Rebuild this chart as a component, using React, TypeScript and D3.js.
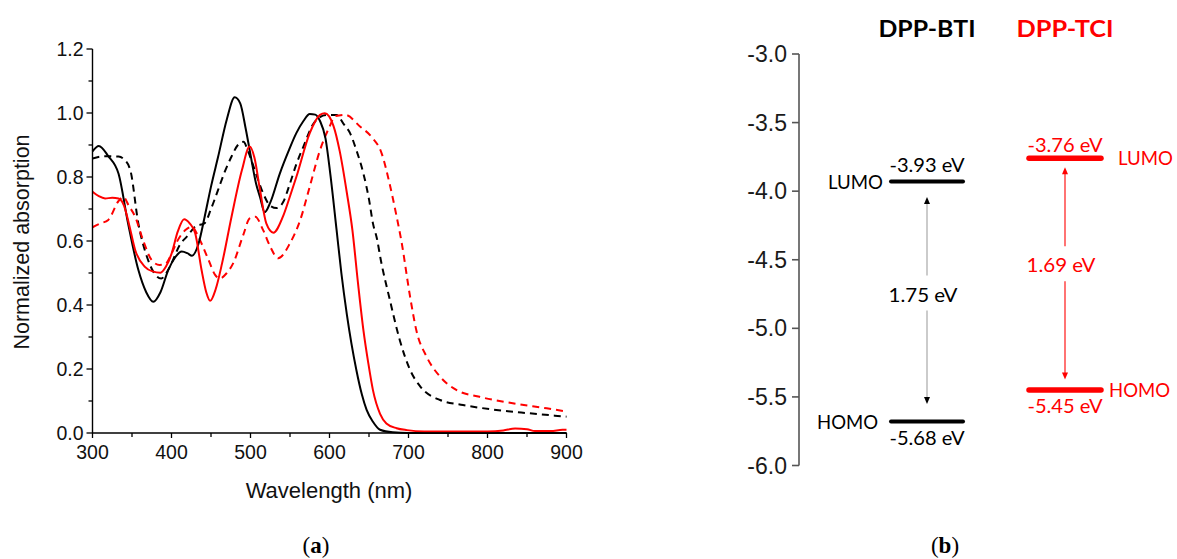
import React from "react";
import * as d3 from "d3";

// ---------- Panel (a): absorption spectra ----------
const btiSolidWl = [300, 308, 320, 333, 345, 358, 368, 377, 386, 396, 405, 413, 420, 426, 434, 442, 450, 459, 470, 480, 487, 494, 500, 507, 512, 518, 525, 537, 548, 558, 567, 575, 582, 588, 595, 601, 609, 615, 622, 634, 641, 647, 655, 664, 680, 700, 900];
const btiSolidAbs = [0.88, 0.897, 0.865, 0.81, 0.655, 0.51, 0.44, 0.41, 0.44, 0.51, 0.55, 0.567, 0.562, 0.554, 0.59, 0.676, 0.77, 0.863, 0.98, 1.049, 1.03, 0.95, 0.87, 0.78, 0.738, 0.69, 0.72, 0.81, 0.88, 0.937, 0.975, 0.997, 0.995, 0.975, 0.92, 0.81, 0.634, 0.5, 0.37, 0.197, 0.12, 0.072, 0.035, 0.01, 0.002, 0, 0];

const btiDashWl = [300, 315, 333, 340, 348, 358, 369, 378, 387, 398, 411, 420, 430, 442, 450, 459, 468, 476, 484, 491, 497, 504, 516, 525, 533, 541, 550, 558, 567, 580, 596, 609, 618, 626, 634, 643, 650, 655, 660, 665, 676, 689, 702, 715, 740, 769, 811, 853, 900];
const btiDashAbs = [0.858, 0.865, 0.864, 0.855, 0.82, 0.655, 0.55, 0.5, 0.483, 0.52, 0.59, 0.615, 0.645, 0.656, 0.7, 0.76, 0.82, 0.864, 0.9, 0.91, 0.88, 0.832, 0.749, 0.71, 0.703, 0.72, 0.78, 0.84, 0.895, 0.968, 0.994, 0.994, 0.965, 0.937, 0.884, 0.81, 0.73, 0.655, 0.608, 0.54, 0.42, 0.29, 0.197, 0.145, 0.103, 0.0875, 0.072, 0.0615, 0.051];

const tciSolidWl = [300, 308, 316, 325, 333, 340, 346, 354, 366, 376, 386, 393, 400, 408, 416, 423, 430, 438, 444, 449, 456, 464, 476, 489, 499, 505, 512, 520, 529, 541, 550, 558, 575, 588, 594, 605, 613, 622, 629, 636, 643, 649, 655, 664, 672, 685, 698, 720, 800, 820, 835, 850, 860, 880, 895, 900];
const tciSolidAbs = [0.754, 0.74, 0.733, 0.735, 0.733, 0.71, 0.655, 0.572, 0.52, 0.505, 0.501, 0.52, 0.56, 0.63, 0.668, 0.655, 0.624, 0.51, 0.44, 0.413, 0.45, 0.53, 0.676, 0.82, 0.895, 0.86, 0.76, 0.655, 0.626, 0.676, 0.74, 0.8, 0.937, 0.994, 0.999, 0.96, 0.88, 0.75, 0.634, 0.47, 0.32, 0.22, 0.134, 0.06, 0.03, 0.015, 0.009, 0.005, 0.005, 0.008, 0.014, 0.012, 0.006, 0.006, 0.01, 0.01];

const tciDashWl = [300, 310, 320, 333, 339, 346, 354, 364, 375, 385, 392, 400, 407, 418, 426, 434, 447, 455, 461, 470, 478, 491, 499, 506, 516, 525, 535, 550, 563, 575, 588, 600, 607, 620, 639, 653, 666, 676, 685, 691, 702, 710, 723, 740, 761, 790, 832, 875, 900];
const tciDashAbs = [0.643, 0.655, 0.666, 0.725, 0.738, 0.71, 0.676, 0.603, 0.54, 0.525, 0.528, 0.56, 0.598, 0.635, 0.645, 0.613, 0.54, 0.495, 0.483, 0.5, 0.53, 0.62, 0.671, 0.676, 0.634, 0.582, 0.546, 0.593, 0.666, 0.77, 0.884, 0.957, 0.99, 0.994, 0.957, 0.926, 0.874, 0.78, 0.676, 0.6, 0.426, 0.32, 0.238, 0.176, 0.134, 0.113, 0.093, 0.077, 0.067];

const xTickValues = [300, 400, 500, 600, 700, 800, 900];
const xMinorTicks = [350, 450, 550, 650, 750, 850];
const yTickValues = [0, 0.2, 0.4, 0.6, 0.8, 1.0, 1.2];
const yMinorTicks = [0.1, 0.3, 0.5, 0.7, 0.9, 1.1];

// ---------- Panel (b): energy levels ----------
const materials = ["DPP-BTI", "DPP-TCI"];
const lumoLevels = [-3.93, -3.76];
const homoLevels = [-5.68, -5.45];
const materialColors = ["#000000", "#ff0000"];
const energyTicks = [-3.0, -3.5, -4.0, -4.5, -5.0, -5.5, -6.0];

const SANS = "'Liberation Sans', Arial, sans-serif";
const CAL = "Lato, 'Open Sans', sans-serif";

export default function App() {
  const x = d3.scaleLinear().domain([300, 900]).range([92.5, 566.5]);
  const y = d3.scaleLinear().domain([0, 1.2]).range([433, 49]);

  const mk = (wl: number[], ab: number[]) => {
    const pts = wl.map((w, i) => [w, ab[i]] as [number, number]);
    return d3
      .line<[number, number]>()
      .x((d) => x(d[0]))
      .y((d) => y(d[1]))
      .curve(d3.curveMonotoneX)(pts) as string;
  };

  const series = [
    { d: mk(btiDashWl, btiDashAbs), color: "#000", dash: "7,5" },
    { d: mk(tciDashWl, tciDashAbs), color: "#ff0000", dash: "7,5" },
    { d: mk(btiSolidWl, btiSolidAbs), color: "#000", dash: undefined },
    { d: mk(tciSolidWl, tciSolidAbs), color: "#ff0000", dash: undefined },
  ];

  const ey = d3.scaleLinear().domain([-3, -6]).range([54, 465.5]);
  const ex = d3.scalePoint<string>().domain(materials).range([927, 1065]);
  const halfBar = 36;
  const barWidths = [4, 5.5];
  const tipGap = [15.5, 9];

  return (
    <svg
      width={1177}
      height={559}
      style={{ position: "absolute", left: 0, top: 0, background: "#fff" }}
    >
      <rect width={1177} height={559} fill="#fff" />
      {/* ---------- Panel a ---------- */}
      <g>
        {series.map((s, i) => (
          <path
            key={i}
            d={s.d}
            fill="none"
            stroke={s.color}
            strokeWidth={2}
            strokeDasharray={s.dash}
          />
        ))}
        {/* axes */}
        <line x1={x(300)} x2={x(900)} y1={y(0)} y2={y(0)} stroke="#000" strokeWidth={1.4} />
        <line x1={x(300)} x2={x(300)} y1={y(0)} y2={y(1.2)} stroke="#000" strokeWidth={1.4} />
        {xTickValues.map((t) => (
          <g key={"xt" + t}>
            <line x1={x(t)} x2={x(t)} y1={y(0)} y2={y(0) + 5} stroke="#000" strokeWidth={1.3} />
            <text x={x(t)} y={y(0) + 26} textAnchor="middle" fontFamily={SANS} fontSize={19.5} fill="#111">
              {t}
            </text>
          </g>
        ))}
        {xMinorTicks.map((t) => (
          <line key={"xm" + t} x1={x(t)} x2={x(t)} y1={y(0)} y2={y(0) + 4} stroke="#000" strokeWidth={1.3} />
        ))}
        {yTickValues.map((t) => (
          <g key={"yt" + t}>
            <line x1={x(300) - 6} x2={x(300)} y1={y(t)} y2={y(t)} stroke="#000" strokeWidth={1.3} />
            <text x={x(300) - 9} y={y(t) + 7} textAnchor="end" fontFamily={SANS} fontSize={19.5} fill="#111">
              {t.toFixed(1)}
            </text>
          </g>
        ))}
        {yMinorTicks.map((t) => (
          <line key={"ym" + t} x1={x(300) - 4} x2={x(300)} y1={y(t)} y2={y(t)} stroke="#000" strokeWidth={1.3} />
        ))}
        <text x={329} y={498} textAnchor="middle" fontFamily={SANS} fontSize={22} fill="#111">
          Wavelength (nm)
        </text>
        <text
          transform="translate(29,242) rotate(-90)"
          textAnchor="middle"
          fontFamily={SANS}
          fontSize={21.5}
          fill="#111"
        >
          Normalized absorption
        </text>
      </g>

      {/* ---------- Panel b ---------- */}
      <g>
        <line x1={799} x2={799} y1={ey(-3)} y2={ey(-6)} stroke="#555" strokeWidth={1.6} />
        {energyTicks.map((t) => (
          <g key={"et" + t}>
            <line x1={792} x2={799} y1={ey(t)} y2={ey(t)} stroke="#555" strokeWidth={1.6} />
            <text x={787} y={ey(t) + 8} textAnchor="end" fontFamily={SANS} fontSize={23} fill="#1a1a1a">
              {t.toFixed(1)}
            </text>
          </g>
        ))}
        {materials.map((m, i) => {
          const cx = ex(m) as number;
          const col = materialColors[i];
          const yl = ey(lumoLevels[i]);
          const yh = ey(homoLevels[i]);
          const gap = (lumoLevels[i] - homoLevels[i]).toFixed(2);
          const mid = (yl + yh) / 2 + (i === 0 ? 0 : -2);
          const lineCol = i === 0 ? "#a0a0a0" : "#ff0000";
          const tTop = yl + tipGap[i];
          const tBot = yh - tipGap[i] - (i === 0 ? 2 : 1.5);
          const left = i === 0;
          return (
            <g key={m}>
              <text x={cx} y={37} textAnchor="middle" fontFamily={CAL} fontWeight="bold" fontSize={22} fill={col} textLength={97} lengthAdjust="spacingAndGlyphs">
                {m}
              </text>
              {/* bars */}
              <line x1={cx - halfBar} x2={cx + halfBar} y1={yl} y2={yl} stroke={col} strokeWidth={barWidths[i]} strokeLinecap="round" />
              <line x1={cx - halfBar} x2={cx + halfBar} y1={yh} y2={yh} stroke={col} strokeWidth={barWidths[i]} strokeLinecap="round" />
              {/* values */}
              <text x={cx} y={yl - (left ? 10 : 6)} textAnchor="middle" fontFamily={CAL} fontSize={18.5} fill={col} textLength={75} lengthAdjust="spacingAndGlyphs">
                {lumoLevels[i].toFixed(2)} eV
              </text>
              <text x={cx} y={yh + 23} textAnchor="middle" fontFamily={CAL} fontSize={18.5} fill={col} textLength={75} lengthAdjust="spacingAndGlyphs">
                {homoLevels[i].toFixed(2)} eV
              </text>
              {/* LUMO / HOMO labels */}
              <text
                x={left ? cx - halfBar - 8 : cx + halfBar + 17}
                y={yl + 7}
                textAnchor={left ? "end" : "start"}
                fontFamily={CAL}
                fontSize={18.5}
                fill={col}
                textLength={55}
                lengthAdjust="spacingAndGlyphs"
              >
                LUMO
              </text>
              <text
                x={left ? cx - halfBar - 13 : cx + halfBar + 8}
                y={yh + 7}
                textAnchor={left ? "end" : "start"}
                fontFamily={CAL}
                fontSize={18.5}
                fill={col}
                textLength={61}
                lengthAdjust="spacingAndGlyphs"
              >
                HOMO
              </text>
              {/* gap arrow */}
              <line x1={cx} x2={cx} y1={tTop + 6} y2={mid - 26} stroke={lineCol} strokeWidth={1.1} />
              <line x1={cx} x2={cx} y1={mid + 9} y2={tBot - 6} stroke={lineCol} strokeWidth={1.1} />
              <path d={`M${cx},${tTop} L${cx - 3},${tTop + 7} L${cx + 3},${tTop + 7} Z`} fill={col} />
              <path d={`M${cx},${tBot} L${cx - 3},${tBot - 7} L${cx + 3},${tBot - 7} Z`} fill={col} />
              <text x={cx - 4} y={mid} textAnchor="middle" fontFamily={CAL} fontSize={18.5} fill={col} textLength={69} lengthAdjust="spacingAndGlyphs">
                {gap} eV
              </text>
            </g>
          );
        })}
      </g>

      {/* captions */}
      <text x={316} y={553} textAnchor="middle" fontFamily="'Liberation Serif', 'DejaVu Serif', serif" fontSize={23} fill="#000">
        (<tspan fontWeight="bold">a</tspan>)
      </text>
      <text x={945} y={553} textAnchor="middle" fontFamily="'Liberation Serif', 'DejaVu Serif', serif" fontSize={23} fill="#000">
        (<tspan fontWeight="bold">b</tspan>)
      </text>
    </svg>
  );
}
